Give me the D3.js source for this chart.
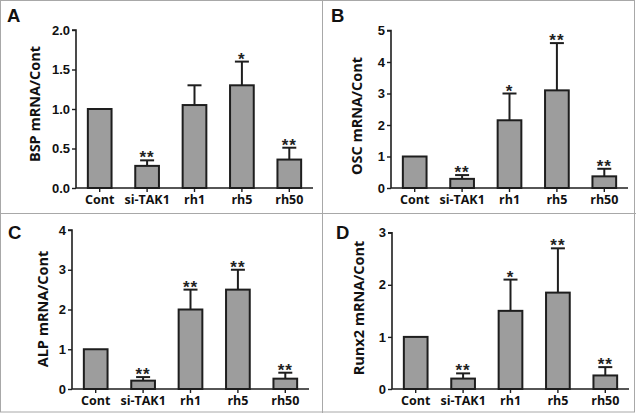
<!DOCTYPE html>
<html><head><meta charset="utf-8">
<script src="https://cdn.jsdelivr.net/npm/d3@7"></script>
<style>body{margin:0;background:#fff}svg{display:block}</style>
</head><body><svg id="c" width="636" height="413"></svg>
<script>
const categories = ["Cont","si-TAK1","rh1","rh5","rh50"];
const bspMean = [1.0, 0.28, 1.05, 1.30, 0.36];
const bspErr  = [0, 0.07, 0.25, 0.30, 0.15];
const bspSig  = ["", "**", "", "*", "**"];
const bspTicks = ["0.0","0.5","1.0","1.5","2.0"];
const oscMean = [1.0, 0.29, 2.15, 3.1, 0.37];
const oscErr  = [0, 0.12, 0.85, 1.5, 0.24];
const oscSig  = ["", "**", "*", "**", "**"];
const oscTicks = ["0","1","2","3","4","5"];
const alpMean = [1.0, 0.21, 2.0, 2.5, 0.26];
const alpErr  = [0, 0.09, 0.5, 0.5, 0.15];
const alpSig  = ["", "**", "**", "**", "**"];
const alpTicks = ["0","1","2","3","4"];
const runxMean = [1.0, 0.2, 1.5, 1.85, 0.26];
const runxErr  = [0, 0.1, 0.6, 0.85, 0.16];
const runxSig  = ["", "**", "*", "**", "**"];
const runxTicks = ["0","1","2","3"];

const svg = d3.select("#c");
// frame
svg.append("rect").attr("x",0.5).attr("y",0.5).attr("width",634).attr("height",411.5)
  .attr("fill","none").attr("stroke","#a8a8a8").attr("stroke-width",1);
svg.append("line").attr("x1",322.5).attr("x2",322.5).attr("y1",0).attr("y2",413).attr("stroke","#a8a8a8");
svg.append("line").attr("x1",0).attr("x2",636).attr("y1",213.5).attr("y2",213.5).attr("stroke","#a8a8a8");

const panels = [
  {letter:"A", lx:7, ly:22, ax:76, y0:188, y1:30, ymax:2, ticks:bspTicks, mean:bspMean, err:bspErr, sig:bspSig, label:"BSP mRNA/Cont", labX:34, labY:104},
  {letter:"B", lx:331, ly:22, ax:391, y0:188, y1:30.5, ymax:5, ticks:oscTicks, mean:oscMean, err:oscErr, sig:oscSig, label:"OSC mRNA/Cont", labX:356, labY:116},
  {letter:"C", lx:8, ly:239, ax:72, y0:389, y1:230, ymax:4, ticks:alpTicks, mean:alpMean, err:alpErr, sig:alpSig, label:"ALP mRNA/Cont", labX:42, labY:309},
  {letter:"D", lx:336, ly:239, ax:392, y0:389, y1:232.7, ymax:3, ticks:runxTicks, mean:runxMean, err:runxErr, sig:runxSig, label:"Runx2 mRNA/Cont", labX:358, labY:308}
];

const dark = "#1e1e1e";
panels.forEach(p => {
  const g = svg.append("g");
  g.append("text").attr("x",p.lx).attr("y",p.ly).text(p.letter)
    .attr("font-family","Liberation Sans, Arial").attr("font-weight","bold").attr("font-size",18.5).attr("fill","#111");

  const x = d3.scaleBand().domain(categories).range([p.ax, p.ax+237]).paddingInner(0.5).paddingOuter(0.25);
  const y = d3.scaleLinear().domain([0,p.ymax]).range([p.y0,p.y1]);
  const tickVals = p.ticks.map(Number);

  const yAxis = d3.axisLeft(y).tickValues(tickVals).tickSize(4).tickPadding(2)
    .tickFormat((d,i)=>p.ticks[i]);
  const ya = g.append("g").attr("transform",`translate(${p.ax},0)`).call(yAxis);
  ya.select(".domain").attr("stroke",dark).attr("stroke-width",1.6).attr("d",`M-4,${p.y1}H0V${p.y0}`);
  ya.selectAll(".tick line").attr("stroke",dark).attr("stroke-width",1.4);
  ya.selectAll(".tick text").attr("font-family","Liberation Sans, Arial").attr("font-weight","bold")
    .attr("font-size",13).attr("fill","#111");

  const xAxis = d3.axisBottom(x).tickSize(4).tickPadding(3);
  const xa = g.append("g").attr("transform",`translate(0,${p.y0})`).call(xAxis);
  xa.select(".domain").attr("stroke",dark).attr("stroke-width",1.6).attr("d",`M${p.ax},0H${p.ax+237}`);
  xa.selectAll(".tick line").attr("stroke",dark).attr("stroke-width",1.4);
  xa.selectAll(".tick text").attr("font-family","Open Sans").attr("font-weight","bold")
    .attr("font-size",12.5).attr("fill","#111");

  const bw = x.bandwidth();
  const capW = 14;
  categories.forEach((c,i)=>{
    if (p.err[i] > 0) {
      const cx = x(c)+bw/2;
      g.append("line").attr("x1",cx).attr("x2",cx).attr("y1",y(p.mean[i])).attr("y2",y(p.mean[i]+p.err[i]))
        .attr("stroke",dark).attr("stroke-width",2);
      g.append("line").attr("x1",cx-capW/2).attr("x2",cx+capW/2).attr("y1",y(p.mean[i]+p.err[i])).attr("y2",y(p.mean[i]+p.err[i]))
        .attr("stroke",dark).attr("stroke-width",2);
    }
  });
  g.selectAll("rect.bar").data(categories).join("rect").attr("class","bar")
    .attr("x",c=>x(c)).attr("width",bw)
    .attr("y",(c,i)=>y(p.mean[i])).attr("height",(c,i)=>y(0)-y(p.mean[i]))
    .attr("fill","#9d9d9d").attr("stroke",dark).attr("stroke-width",2);

  g.selectAll("text.sig").data(categories).join("text").attr("class","sig")
    .attr("x",c=>x(c)+bw/2).attr("y",(c,i)=>y(p.mean[i]+p.err[i]) + 3)
    .attr("text-anchor","middle").attr("font-family","Liberation Sans, Arial").attr("font-weight","bold")
    .attr("font-size",17).attr("letter-spacing",1).attr("fill","#222")
    .text((c,i)=>p.sig[i]);

  g.append("text").attr("transform",`translate(${p.labX},${p.labY}) rotate(-90)`)
    .attr("text-anchor","middle").attr("dominant-baseline","central")
    .attr("font-family","Open Sans").attr("font-weight","bold").attr("font-size",14.5).attr("fill","#111")
    .text(p.label);
});
</script></body></html>
